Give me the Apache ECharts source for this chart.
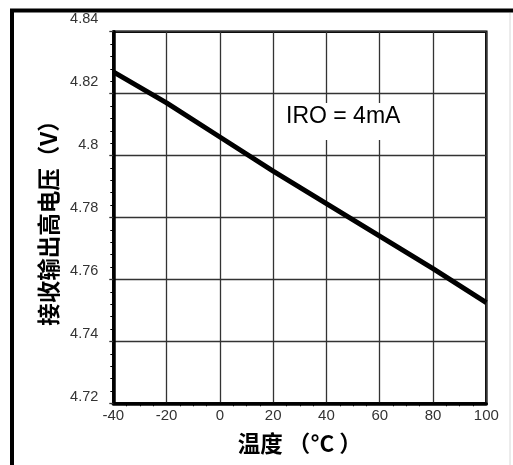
<!DOCTYPE html>
<html>
<head>
<meta charset="utf-8">
<script src="https://cdn.jsdelivr.net/npm/echarts@6/dist/echarts.min.js"></script>
<style>
html,body{margin:0;padding:0;background:#fff;}
#c{width:513px;height:465px;}
</style>
</head>
<body>
<div id="c"></div>
<script>
// Data
const temperatures = [-40, -20, 0, 20, 40, 60, 80, 100];
const voltages = [4.827, 4.817, 4.806, 4.795, 4.7845, 4.774, 4.7635, 4.7525];
const xTicks = [-40, -20, 0, 20, 40, 60, 80, 100];
const yTicks = [4.72, 4.74, 4.76, 4.78, 4.80, 4.82, 4.84];
const xAxisTitle = '温度 （°C ）';
const yAxisTitle = '接收输出高电压（V）';
const noteText = 'IRO = 4mA';

const chart = echarts.init(document.getElementById('c'), null, {renderer: 'canvas'});
const latin = '"Liberation Sans", Arial, sans-serif';
const cjk = '"Noto Sans CJK SC", sans-serif';

const option = {
  animation: false,
  backgroundColor: '#fff',
  grid: [
    {left: 113.3, top: 31.7, right: 26.7, bottom: 61.7, show: true, borderColor: '#000', borderWidth: 2.5, backgroundColor: 'transparent'},
    {left: 113.3, top: 19.2, right: 26.7, bottom: 68, show: false}
  ],
  xAxis: [
    {
      type: 'value', gridIndex: 0,
      min: xTicks[0], max: xTicks[xTicks.length - 1], interval: 20,
      name: xAxisTitle, nameLocation: 'middle', nameGap: 29,
      nameTextStyle: {fontFamily: cjk, fontWeight: 'bold', fontSize: 22.5, color: '#000'},
      axisLine: {show: true, onZero: false, lineStyle: {color: '#000', width: 3.5}},
      axisTick: {show: false},
      minorTick: {show: true, splitNumber: 4, length: 3, inside: true, lineStyle: {color: '#000', width: 1}},
      axisLabel: {fontFamily: latin, fontSize: 15, color: '#333', margin: 5},
      splitLine: {show: true, lineStyle: {color: '#333', width: 1.3}}
    },
    {type: 'value', gridIndex: 1, min: xTicks[0], max: xTicks[xTicks.length - 1], show: false}
  ],
  yAxis: [
    {
      type: 'value', gridIndex: 0,
      min: yTicks[0], max: yTicks[yTicks.length - 1], interval: 0.02,
      name: yAxisTitle, nameLocation: 'middle', nameGap: 54, nameRotate: 90,
      nameTextStyle: {fontFamily: cjk, fontWeight: 'bold', fontSize: 22.5, color: '#000'},
      axisLine: {show: true, onZero: false, lineStyle: {color: '#000', width: 3.5}},
      axisTick: {show: true, inside: false, length: 4, lineStyle: {color: '#333', width: 1.3}},
      minorTick: {show: true, splitNumber: 5, length: 3, inside: true, lineStyle: {color: '#000', width: 1}},
      axisLabel: {show: false},
      splitLine: {show: true, lineStyle: {color: '#333', width: 1.3}}
    },
    {
      type: 'value', gridIndex: 1,
      min: yTicks[0], max: yTicks[yTicks.length - 1], interval: 0.02,
      axisLine: {show: false}, axisTick: {show: false}, splitLine: {show: false},
      axisLabel: {fontFamily: latin, fontSize: 14.5, color: '#333', margin: 15}
    }
  ],
  series: [{
    type: 'line',
    xAxisIndex: 0, yAxisIndex: 0,
    data: temperatures.map((t, i) => [t, voltages[i]]),
    showSymbol: false,
    lineStyle: {color: '#000', width: 5},
    z: 5
  }],
  graphic: [
    {type: 'line', shape: {x1: 12, y1: 10, x2: 12, y2: 465}, style: {stroke: '#000', lineWidth: 4}},
    {type: 'line', shape: {x1: 10, y1: 10.5, x2: 513, y2: 10.5}, style: {stroke: '#000', lineWidth: 4}},
    {type: 'line', shape: {x1: 510, y1: 13, x2: 510, y2: 465}, style: {stroke: '#d8d8d8', lineWidth: 1}},
    {type: 'rect', shape: {x: 281, y: 103, width: 130, height: 37}, style: {fill: '#fff'}, z: 10},
    {type: 'text', x: 286, y: 117, style: {text: noteText, font: '23px "Liberation Sans", Arial, sans-serif', fill: '#000', verticalAlign: 'middle', align: 'left'}, z: 11}
  ]
};
chart.setOption(option);
</script>
</body>
</html>
